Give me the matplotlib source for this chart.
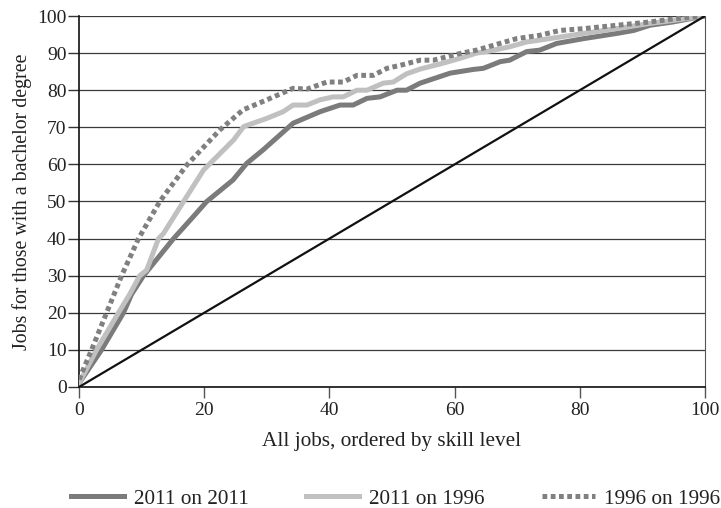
import matplotlib.pyplot as plt

plt.rcParams['font.family'] = ['Liberation Serif', 'DejaVu Serif']

# 2011 on 2011 (dark grey solid)
x_2011_2011 = [0, 3.6, 7.1, 8.4, 10.3, 15.1, 18.3, 20.4, 24.6, 26.8, 29.4, 34.2,
               38.5, 41.7, 43.8, 46, 48.1, 50.8, 52.3, 54.5, 59.3, 63, 64.6,
               67.3, 68.8, 71.5, 73.6, 76.3, 80.6, 85.9, 88.6, 91.2, 94.9, 100]
y_2011_2011 = [1, 10, 20, 25, 30, 40, 46, 50, 55.8, 60.3, 63.9, 71.1,
               74.2, 76, 76, 77.8, 78.2, 80, 80, 81.9, 84.6, 85.6, 85.9,
               87.7, 88.1, 90.4, 90.8, 92.6, 93.9, 95.3, 96.1, 97.5, 98.4, 100]

# 2011 on 1996 (light grey solid)
x_2011_1996 = [0, 2.8, 6.3, 8.1, 9.7, 10.8, 12.7, 13.5, 16.7, 19.9, 24.7, 26.3,
               30, 32.6, 34.2, 36.4, 38.5, 40.6, 42.2, 44.4, 46, 48.6, 50.2,
               52.3, 54.5, 58.2, 60.9, 63.5, 65.1, 68.8, 71.5, 73.6, 80.6,
               85.9, 91.2, 94.9, 100]
y_2011_1996 = [1, 10, 20, 25, 30, 31.5, 40, 41.4, 50, 58.5, 66.6, 70.2,
               72.4, 74.2, 76, 76, 77.4, 78.2, 78.2, 80, 80, 81.9, 82.2,
               84.4, 85.7, 87.3, 88.6, 90, 90.4, 91.7, 93, 93.5, 95.3,
               96.6, 98, 98.8, 100]

# 1996 on 1996 (grey dotted)
x_1996_1996 = [0, 2.0, 4.4, 6.8, 9.5, 12.9, 17.2, 22.5, 26.2, 30, 34.2, 36.4,
               39.6, 42.2, 44.4, 47, 49.2, 51.3, 54.5, 56.6, 60.9, 63.5, 66.2,
               69.9, 73.6, 76.8, 80.6, 85.9, 91.2, 95.5, 100]
y_1996_1996 = [2, 10, 20, 30, 40, 50, 59.8, 69.3, 74.7, 77.4, 80.5, 80.3,
               82.2, 82.2, 84, 84, 85.9, 86.7, 88.1, 88.1, 89.9, 90.8, 92.1,
               93.9, 94.8, 96.1, 96.6, 97.5, 98.4, 99.3, 100]

equality = [0, 100]

fig = plt.figure(figsize=(7.21, 5.08), dpi=100)
ax = fig.add_axes([0.1096, 0.2382, 0.8682, 0.7303])

ax.set_yticks(range(0, 101, 10))
ax.set_xticks(range(0, 101, 20))
ax.yaxis.grid(True, color='#3a3a3a', linewidth=0.9)
ax.set_axisbelow(True)

ax.plot(x_2011_2011, y_2011_2011, color='#7b7b7b', linewidth=3.6,
        solid_joinstyle='round', label='2011 on 2011', zorder=3)
ax.plot(x_2011_1996, y_2011_1996, color='#c0c0c0', linewidth=3.6,
        solid_joinstyle='round', label='2011 on 1996', zorder=3)
ax.plot(x_1996_1996, y_1996_1996, color='#808080', linewidth=3.6,
        linestyle=(0, (0.95, 0.7)), dash_capstyle='butt',
        label='1996 on 1996', zorder=4)
ax.plot(equality, equality, color='#111111', linewidth=1.6, zorder=5)

ax.set_xlim(0, 100)
ax.set_ylim(0, 100)
ax.spines['top'].set_visible(False)
ax.spines['left'].set_color('#111111')
ax.spines['bottom'].set_color('#111111')
ax.spines['right'].set_color('#555555')
ax.spines['left'].set_linewidth(1.2)
ax.spines['bottom'].set_linewidth(1.2)

ax.tick_params(axis='y', length=8, width=1, color='#333333', labelsize=14,
               pad=1, labelcolor='#222222')
ax.tick_params(axis='x', length=8, width=1, color='#555555', labelsize=14,
               pad=3, labelcolor='#222222')

ax.set_xlabel('All jobs, ordered by skill level', fontsize=15.3,
              color='#222222', labelpad=9)
ax.set_ylabel('Jobs for those with a bachelor degree', fontsize=14.3,
              color='#222222', labelpad=4)

fig.legend(loc='center', bbox_to_anchor=(0.549, 0.018), ncol=3,
           frameon=False, fontsize=15.3, handlelength=2.5,
           columnspacing=2.7, handletextpad=0.45, labelcolor='#222222',
           borderpad=0)

fig.savefig('out.png', dpi=100)
